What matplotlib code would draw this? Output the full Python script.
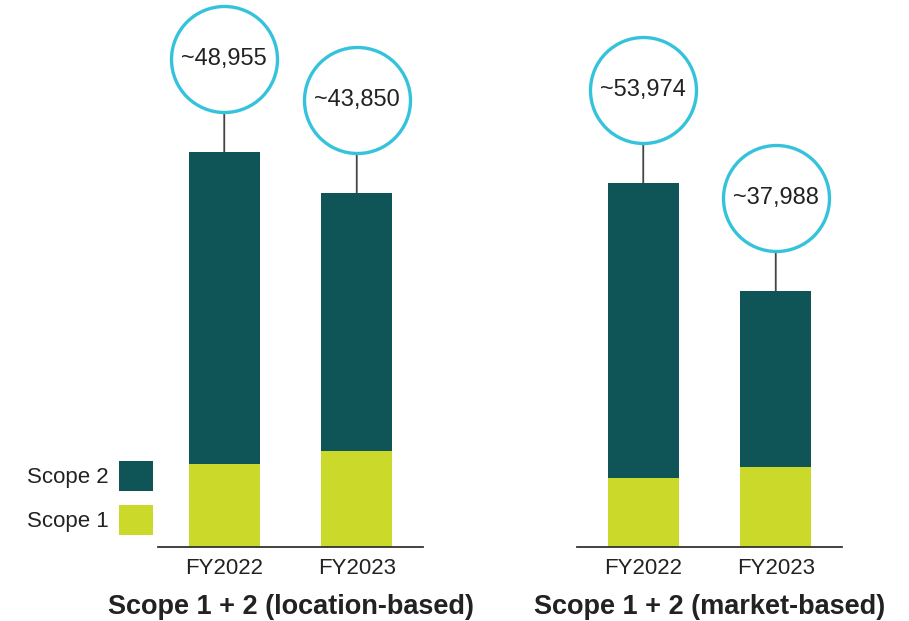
import matplotlib
matplotlib.use("Agg")
import matplotlib.pyplot as plt
import matplotlib.transforms as mtransforms

plt.rcParams['font.family'] = ['Liberation Sans', 'DejaVu Sans']

years = ["FY2022", "FY2023"]
scope1 = [10200, 11850]
location_total = [48955, 43850]
market_total = [53974, 37988]
panel_titles = ["Scope 1 + 2 (location-based)", "Scope 1 + 2 (market-based)"]
legend_labels = ["Scope 2", "Scope 1"]

teal = "#0f5457"
lime = "#cbd92b"
ring = "#35c3dc"
ink = "#222222"

W, H = 909, 621
fig = plt.figure(figsize=(W / 100, H / 100), dpi=100)

# axes boxes in pixels: left, baseline, width, height
boxes = [(158, 546.7, 265, 536.7), (577, 546.7, 265, 536.7)]
ymax = [66560, 79650]


def draw_panel(ax, totals, title, top):
    scope2 = [t - s for t, s in zip(totals, scope1)]
    x = range(len(years))
    b1 = ax.bar(x, scope1, width=0.535, color=lime, zorder=2)
    b2 = ax.bar(x, scope2, bottom=scope1, width=0.535, color=teal, zorder=2)
    ax.set_xlim(-0.5, 1.5)
    ax.set_ylim(0, top)
    for s in ["top", "left", "right"]:
        ax.spines[s].set_visible(False)
    ax.spines["bottom"].set_color("#333333")
    ax.spines["bottom"].set_linewidth(1.3)
    ax.set_yticks([])
    ax.set_xticks(list(x))
    ax.set_xticklabels(years, fontsize=16, color=ink)
    ax.tick_params(axis="x", length=0, pad=8)
    ax.set_xlabel(title, fontsize=19.5, fontweight="bold", color=ink, labelpad=11)

    # callout circles above bars
    gap = 40 * 72 / 100      # line length in points
    rad = 53 * 72 / 100      # circle radius in points
    for i, t in enumerate(totals):
        ax.annotate("", xy=(i, t), xytext=(0, gap), textcoords="offset points",
                    arrowprops=dict(arrowstyle="-", color="#444444", lw=1.3,
                                    shrinkA=0, shrinkB=0))
        tr = mtransforms.offset_copy(ax.transData, fig=fig, x=0, y=gap + rad,
                                     units="points")
        ax.plot([i], [t], marker="o", markersize=2 * rad, markerfacecolor="white",
                markeredgecolor=ring, markeredgewidth=2.4, transform=tr,
                clip_on=False, zorder=5)
        ax.text(i, t, f"~{t:,}", transform=tr, ha="center", va="center",
                fontsize=17, color=ink, zorder=6)
    return b1, b2


axes = []
for (l, base, w, h), totals, title, top in zip(boxes, [location_total, market_total],
                                               panel_titles, ymax):
    ax = fig.add_axes([l / W, (H - base) / H, w / W, h / H])
    ax.patch.set_alpha(0)
    handles = draw_panel(ax, totals, title, top)
    axes.append((ax, handles))

ax0, (b1, b2) = axes[0]
fig.legend([b2, b1], legend_labels, loc="upper right",
           bbox_to_anchor=(153 / W, 1 - 461 / H), frameon=False,
           markerfirst=False, fontsize=16, handlelength=1.55, handleheight=1.7,
           handletextpad=0.45, labelspacing=0.62, borderpad=0, borderaxespad=0,
           labelcolor=ink)

fig.savefig("out.png", dpi=100)
